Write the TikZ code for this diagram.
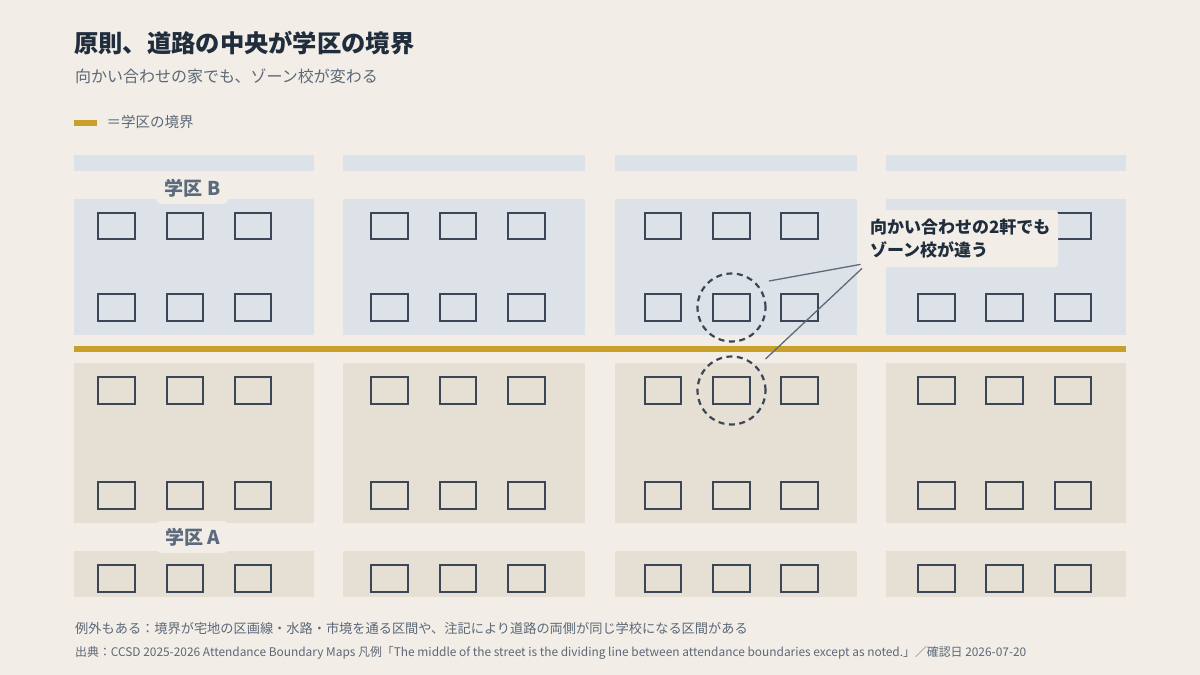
\documentclass[tikz,border=0pt]{standalone}
\usepackage{fontspec}
\setmainfont{Noto Sans CJK JP}
\usetikzlibrary{calc}
\definecolor{bg}{HTML}{F2EEE7}
\definecolor{bluebk}{HTML}{DDE2E8}
\definecolor{beigebk}{HTML}{E6DFD4}
\definecolor{gold}{HTML}{C9A02A}
\definecolor{ink}{HTML}{1F2D3D}
\definecolor{subgray}{HTML}{5C6878}
\definecolor{lblgray}{HTML}{5B6A7C}
\definecolor{housec}{HTML}{3B4656}
\definecolor{leadc}{HTML}{5E6A7A}
\tikzset{
  house/.style={draw=housec, line width=2pt, minimum width=36.5pt, minimum height=26.5pt, inner sep=0pt},
  ring/.style={circle, draw=housec, line width=2.2pt, dash pattern=on 6pt off 4.5pt, minimum size=68pt, inner sep=0pt},
  zlabel/.style={fill=bg, rounded corners=4pt, minimum width=71pt, minimum height=32pt, inner sep=0pt, text=lblgray, font=\fontsize{19}{22}\selectfont\bfseries},
  callout/.style={fill=bg, rounded corners=4pt, minimum width=196pt, minimum height=57pt, inner xsep=7pt, align=left, text=ink, font=\fontsize{17}{23}\selectfont\bfseries},
  leader/.style={draw=leadc, line width=1.3pt},
}
\begin{document}
\begin{tikzpicture}[x=1pt,y=-1pt]
\useasboundingbox (0,0) rectangle (1200,675);
\fill[bg] (0,0) rectangle (1200,675);
% title
\node[anchor=base west, inner sep=0pt, text=ink, font=\fontsize{24.3}{28}\selectfont\bfseries] (title) at (74,52) {原則、道路の中央が学区の境界};
\node[anchor=base west, inner sep=0pt, text=subgray, font=\fontsize{16}{20}\selectfont] (subtitle) at (75,82) {向かい合わせの家でも、ゾーン校が変わる};
% legend
\node[fill=gold, minimum width=23pt, minimum height=6pt, inner sep=0pt] (legsw) at (85.5,123) {};
\node[anchor=base west, inner sep=0pt, text=subgray, font=\fontsize{14.5}{18}\selectfont] (legtxt) at (106.5,127) {＝学区の境界};
% blocks
\foreach \xl/\xr in {74/314,343/585,615/857,886/1126}{
  \fill[bluebk] (\xl,155) rectangle (\xr,171);
  \fill[bluebk] (\xl,199) rectangle (\xr,335);
  \fill[beigebk] (\xl,363) rectangle (\xr,523);
  \fill[beigebk] (\xl,551) rectangle (\xr,597);
}
% boundary line
\fill[gold] (74,346) rectangle (1126,352);
% houses
\foreach \c/\xa/\xb/\xc in {1/116.5/185/253, 2/389.5/458/526.5, 3/663/731.5/799.5, 4/936.5/1004.5/1073}{
  \foreach \r/\y in {1/226,2/307.3,3/390.3,4/495.3,5/578.5}{
    \node[house] (h-\c-\r-1) at (\xa,\y) {};
    \node[house] (h-\c-\r-2) at (\xb,\y) {};
    \node[house] (h-\c-\r-3) at (\xc,\y) {};
  }
}
% district labels
\node[zlabel] (lblB) at (192.5,188) {学区 B};
\node[zlabel] (lblA) at (192.5,537) {学区 A};
% highlighted pair
\node[ring] (ringup) at (731.5,307.5) {};
\node[ring] (ringlo) at (731.5,390.5) {};
% callout
\node[callout, anchor=north west] (call) at (862,210) {向かい合わせの2軒でも\\ゾーン校が違う};
\coordinate (lead1) at (769,281);
\coordinate (lead2) at (765.5,359);
\draw[leader] (lead1) -- ($(call.south west)+(-1.5,-3)$);
\draw[leader] (lead2) -- ($(call.south west)+(0,1)$);
% footer
\node[anchor=base west, inner sep=0pt, text=subgray, font=\fontsize{13.2}{16}\selectfont] (note) at (75,633) {例外もある：境界が宅地の区画線・水路・市境を通る区間や、注記により道路の両側が同じ学校になる区間がある};
\node[anchor=base west, inner sep=0pt, text=subgray, font=\fontsize{11.9}{15}\selectfont] (src) at (75,656) {出典：CCSD 2025-2026 Attendance Boundary Maps 凡例「The middle of the street is the dividing line between attendance boundaries except as noted.」／確認日 2026-07-20};
\end{tikzpicture}
\end{document}
